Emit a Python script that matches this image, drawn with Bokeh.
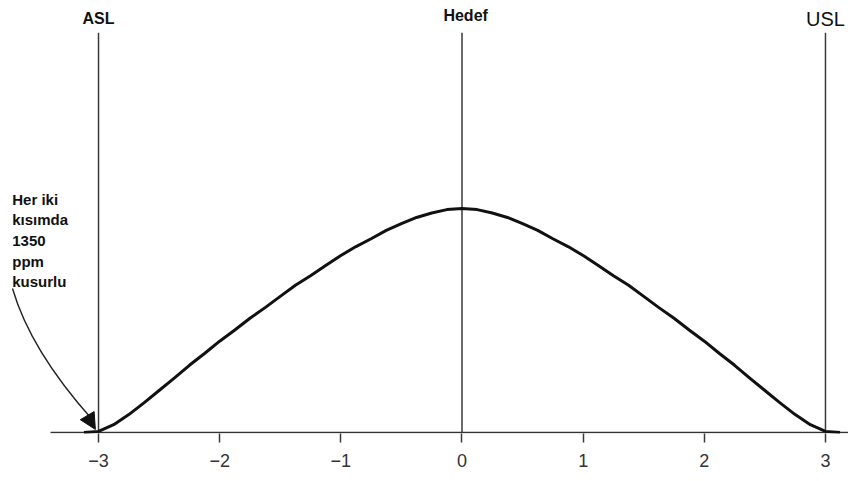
from bokeh.plotting import figure
from bokeh.models import FixedTicker, Label, Arrow, NormalHead, Range1d
from bokeh.embed import file_html
from bokeh.resources import INLINE

# Process distribution in sigma units (relative density)
sigma_x = [-3.12, -3.0, -2.875, -2.75, -2.625, -2.5, -2.375, -2.25, -2.125, -2.0,
           -1.875, -1.75, -1.625, -1.5, -1.375, -1.25, -1.125, -1.0,
           -0.875, -0.75, -0.625, -0.5, -0.375, -0.25, -0.125,
           0.0,
           0.125, 0.25, 0.375, 0.5, 0.625, 0.75, 0.875,
           1.0, 1.125, 1.25, 1.375, 1.5, 1.625, 1.75, 1.875,
           2.0, 2.125, 2.25, 2.375, 2.5, 2.625, 2.75, 2.875, 3.0, 3.12]
density = [0.0, 0.002, 0.014, 0.032, 0.053, 0.075, 0.097, 0.120, 0.141, 0.163,
           0.183, 0.204, 0.223, 0.243, 0.263, 0.280, 0.298, 0.316,
           0.332, 0.346, 0.361, 0.373, 0.384, 0.392, 0.398,
           0.400,
           0.398, 0.392, 0.384, 0.373, 0.361, 0.346, 0.332,
           0.316, 0.298, 0.280, 0.263, 0.243, 0.223, 0.204, 0.183,
           0.163, 0.141, 0.120, 0.097, 0.075, 0.053, 0.032, 0.014, 0.002, 0.0]

# Specification limits and target
limit_x = [-3, 0, 3]
limit_names = ["ASL", "Hedef", "USL"]

tick_values = [-3, -2, -1, 0, 1, 2, 3]
tick_labels = ["\u22123", "\u22122", "\u22121", "0", "1", "2", "3"]

note_text = "Her iki\nkısımda\n1350\nppm\nkusurlu"

FONT = "Liberation Sans"

p = figure(width=848, height=481, output_backend="svg", toolbar_location=None,
           x_range=Range1d(-3.809, 3.190), y_range=Range1d(-0.0018, 0.7714),
           y_axis_location=None, min_border_left=0, min_border_right=0,
           min_border_top=0, min_border_bottom=48)
p.outline_line_color = None
p.grid.grid_line_color = None
p.background_fill_color = "white"
p.border_fill_color = "white"

# Horizontal baseline drawn as its own segment so it starts inside the page
p.segment(x0=[-3.396], y0=[0], x1=[3.19], y1=[0], line_color="#333333", line_width=1.6)

# Vertical lines at the limits and the target
p.segment(x0=limit_x, y0=[0] * 3, x1=limit_x, y1=[0.714] * 3, line_color="#3a3a3a", line_width=1.5)

# Distribution curve
p.line(sigma_x, density, line_color="#111111", line_width=3, line_join="round")

# Axis ticks and labels
ax = p.xaxis[0]
ax.ticker = FixedTicker(ticks=tick_values)
ax.major_label_overrides = {v: s for v, s in zip(tick_values, tick_labels)}
ax.axis_line_color = None
ax.major_tick_in = 0
ax.major_tick_out = 9
ax.major_tick_line_color = "#3a3a3a"
ax.major_tick_line_width = 1.5
ax.minor_tick_line_color = None
ax.major_label_text_font = FONT
ax.major_label_text_font_size = "18px"
ax.major_label_text_color = "#333333"
ax.major_label_standoff = 11

# Labels above the vertical lines
label_styles = [("bold", "16px", 0.7400), ("bold", "16px", 0.7446), ("normal", "20px", 0.7390)]
for xv, name, (style, size, yv) in zip(limit_x, limit_names, label_styles):
    p.add_layout(Label(x=xv + (0.03 if name == "Hedef" else 0.0), y=yv, text=name,
                       text_font=FONT, text_font_style=style, text_font_size=size,
                       text_color="#111111", text_align="center", text_baseline="alphabetic"))

# Note on the tail fraction
p.add_layout(Label(x=-3.712, y=0.4321, text=note_text, text_font=FONT, text_font_style="bold",
                   text_font_size="15px", text_color="#111111", text_align="left",
                   text_baseline="top", text_line_height=1.22))

# Curved pointer from the note to the lower limit
p.quadratic(x0=[-3.710], y0=[0.2571], x1=[-3.052], y1=[0.0232], cx=[-3.561], cy=[0.1464],
            line_color="#222222", line_width=1.4)
p.add_layout(Arrow(x_start=-3.09, y_start=0.0290, x_end=-3.026, y_end=0.0055,
                   line_color="#222222", line_width=1.4,
                   end=NormalHead(size=16, fill_color="#111111", line_color="#111111")))

open("out.html", "w").write(file_html(p, INLINE))
